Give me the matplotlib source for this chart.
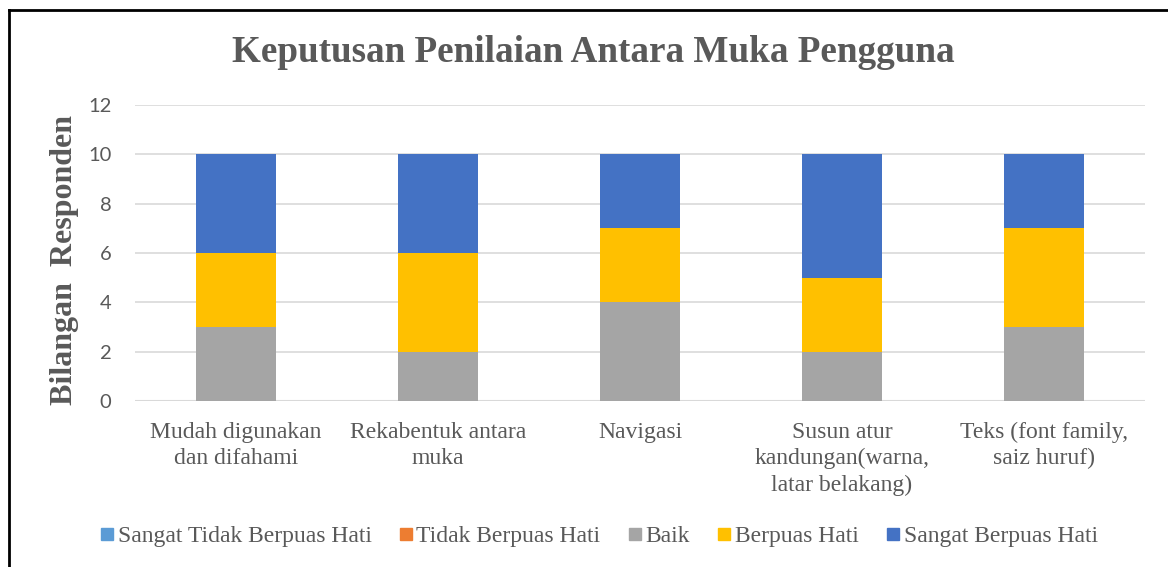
import matplotlib
matplotlib.use("Agg")
import matplotlib.pyplot as plt
from matplotlib.lines import Line2D
import numpy as np

categories = ["Mudah digunakan\ndan difahami", "Rekabentuk antara\nmuka", "Navigasi",
              "Susun atur\nkandungan(warna,\nlatar belakang)", "Teks (font family,\nsaiz huruf)"]
series_names = ["Sangat Tidak Berpuas Hati", "Tidak Berpuas Hati", "Baik", "Berpuas Hati", "Sangat Berpuas Hati"]
sangat_tidak = [0, 0, 0, 0, 0]
tidak = [0, 0, 0, 0, 0]
baik = [3, 2, 4, 2, 3]
berpuas = [3, 4, 3, 3, 4]
sangat_berpuas = [4, 4, 3, 5, 3]
colors = ["#5B9BD5", "#ED7D31", "#A5A5A5", "#FFC000", "#4472C4"]
yticks = [0, 2, 4, 6, 8, 10, 12]

TXT = "#595959"
fig = plt.figure(figsize=(11.68, 5.67), dpi=100)
ax = fig.add_axes([135/1168, 1 - 401/567, 1010/1168, 296/567])

x = np.arange(len(categories))
bottom = np.zeros(len(categories))
for name, vals, c in zip(series_names, [sangat_tidak, tidak, baik, berpuas, sangat_berpuas], colors):
    ax.bar(x, vals, 0.4, bottom=bottom, color=c, label=name, zorder=3)
    bottom += np.array(vals)

ax.set_xlim(-0.5, len(categories) - 0.5)
ax.set_ylim(0, 12)
ax.set_yticks(yticks)
ax.yaxis.grid(True, color="#D9D9D9", linewidth=1.2, zorder=0)
for s in ax.spines.values():
    s.set_visible(False)
ax.axhline(0, color="#D9D9D9", linewidth=1.5, zorder=2)
ax.tick_params(axis="both", length=0)
ax.tick_params(axis="y", labelsize=14.5, labelcolor=TXT, pad=17)
for lab in ax.get_yticklabels():
    lab.set_family("Lato")
ax.set_xticks(x)
ax.set_xticklabels(categories, fontsize=17, color=TXT, family="Liberation Serif", linespacing=1.33)
ax.tick_params(axis="x", pad=15)

fig.text(593/1168, 1 - 52/567, "Keputusan Penilaian Antara Muka Pengguna", ha="center", va="center",
         fontsize=26.7, fontweight="bold", color=TXT, family="Liberation Serif")
fig.text(65/1168, 1 - 260/567, "Bilangan  Responden", ha="center", va="center", rotation=90,
         fontsize=23, fontweight="bold", color=TXT, family="Liberation Serif")

handles = [Line2D([], [], marker="s", linestyle="none", markersize=8.5, markerfacecolor=c, markeredgecolor=c)
           for c in colors]
fig.legend(handles, series_names, loc="center", bbox_to_anchor=(597/1168, 1 - 536/567), ncol=5,
           frameon=False, prop={"family": "Liberation Serif", "size": 17}, labelcolor=TXT,
           handletextpad=0.0, columnspacing=1.0, handlelength=0.9)

# outer border (top and left visible)
fig.add_artist(Line2D([9/1168, 9/1168], [0, 1 - 10/567], transform=fig.transFigure, color="black", linewidth=2))
fig.add_artist(Line2D([9/1168, 1], [1 - 10/567, 1 - 10/567], transform=fig.transFigure, color="black", linewidth=2))

fig.savefig("out.png", dpi=100)
